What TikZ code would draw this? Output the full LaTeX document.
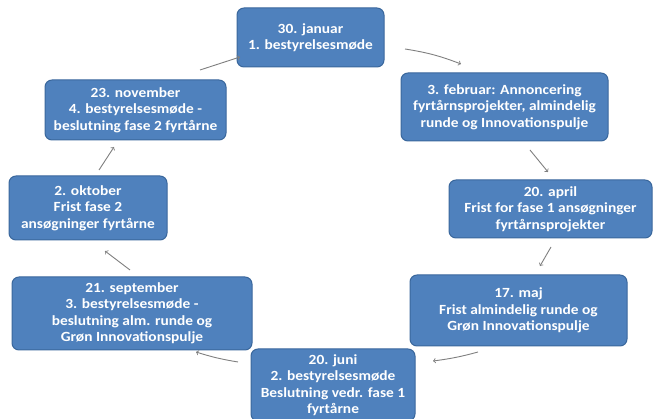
\documentclass[tikz,border=0pt]{standalone}
\usepackage{fontspec}
\setmainfont{Carlito}[FakeStretch=1.1]
\usepackage{tikz}
\usetikzlibrary{calc}

\definecolor{boxblue}{HTML}{4F81BD}
\definecolor{boxedge}{HTML}{3A679C}
\definecolor{arrowgray}{HTML}{7F7F7F}

\begin{document}
\begin{tikzpicture}[x=1pt,y=-1pt,
        datebox/.style={draw=boxedge,line width=1pt,fill=boxblue,rounded corners=7pt,
            text=white,font=\fontsize{14}{16.5}\selectfont\bfseries,align=center,inner sep=1pt},
        cyclearrow/.style={->,draw=arrowgray,line width=0.9pt}]
        \useasboundingbox (0,0) rectangle (654,419);
        % the eight dates of the year
        \node [datebox,minimum width=147pt,minimum height=59pt] (jan) at (310.5,37.5) {30. januar\\1. bestyrelsesmøde};
        \node [datebox,minimum width=207pt,minimum height=68pt] (feb) at (504.5,107) {3. februar: Annoncering\\fyrtårnsprojekter, almindelig\\runde og Innovationspulje};
        \node [datebox,minimum width=203pt,minimum height=58pt] (apr) at (550.5,209) {20. april\\Frist for fase 1 ansøgninger\\fyrtårnsprojekter};
        \node [datebox,minimum width=217pt,minimum height=71pt] (maj) at (518.5,310.5) {17. maj\\Frist almindelig runde og\\Grøn Innovationspulje};
        \node [datebox,minimum width=164pt,minimum height=72pt] (jun) at (333,385) {20. juni\\2. bestyrelsesmøde\\Beslutning vedr. fase 1\\fyrtårne};
        \node [datebox,minimum width=240pt,minimum height=73pt] (sep) at (132,313.5) {21. september\\3. bestyrelsesmøde -\\beslutning alm. runde og\\Grøn Innovationspulje};
        \node [datebox,minimum width=158pt,minimum height=64pt] (okt) at (88,208) {2. oktober\\Frist fase 2\\ansøgninger fyrtårne};
        \node [datebox,minimum width=181pt,minimum height=60pt] (nov) at (135.5,110) {23. november\\4. bestyrelsesmøde -\\beslutning fase 2 fyrtårne};
        % arrow ends between the boxes
        \coordinate (janfebA) at (405,49);  \coordinate (janfebB) at (461,64);
        \coordinate (febaprA) at (530,150); \coordinate (febaprB) at (548,172);
        \coordinate (aprmajA) at (551,247); \coordinate (aprmajB) at (540,266);
        \coordinate (majjunA) at (478,352); \coordinate (majjunB) at (433,361);
        \coordinate (junsepA) at (238,362); \coordinate (junsepB) at (196,352);
        \coordinate (sepoktA) at (130,270); \coordinate (sepoktB) at (105,251);
        \coordinate (oktnovA) at (99,170);  \coordinate (oktnovB) at (114,147);
        \coordinate (novjanA) at (200,70);  \coordinate (novjanB) at (240,57);
        \draw [cyclearrow] (janfebA) to[bend left=6] (janfebB);
        \draw [cyclearrow] (febaprA) -- (febaprB);
        \draw [cyclearrow] (aprmajA) -- (aprmajB);
        \draw [cyclearrow] (majjunA) to[bend left=4] (majjunB);
        \draw [cyclearrow] (junsepA) to[bend left=4] (junsepB);
        \draw [cyclearrow] (sepoktA) -- (sepoktB);
        \draw [cyclearrow] (oktnovA) -- (oktnovB);
        \draw [cyclearrow] (novjanA) -- (novjanB);
    \end{tikzpicture}
\end{document}
